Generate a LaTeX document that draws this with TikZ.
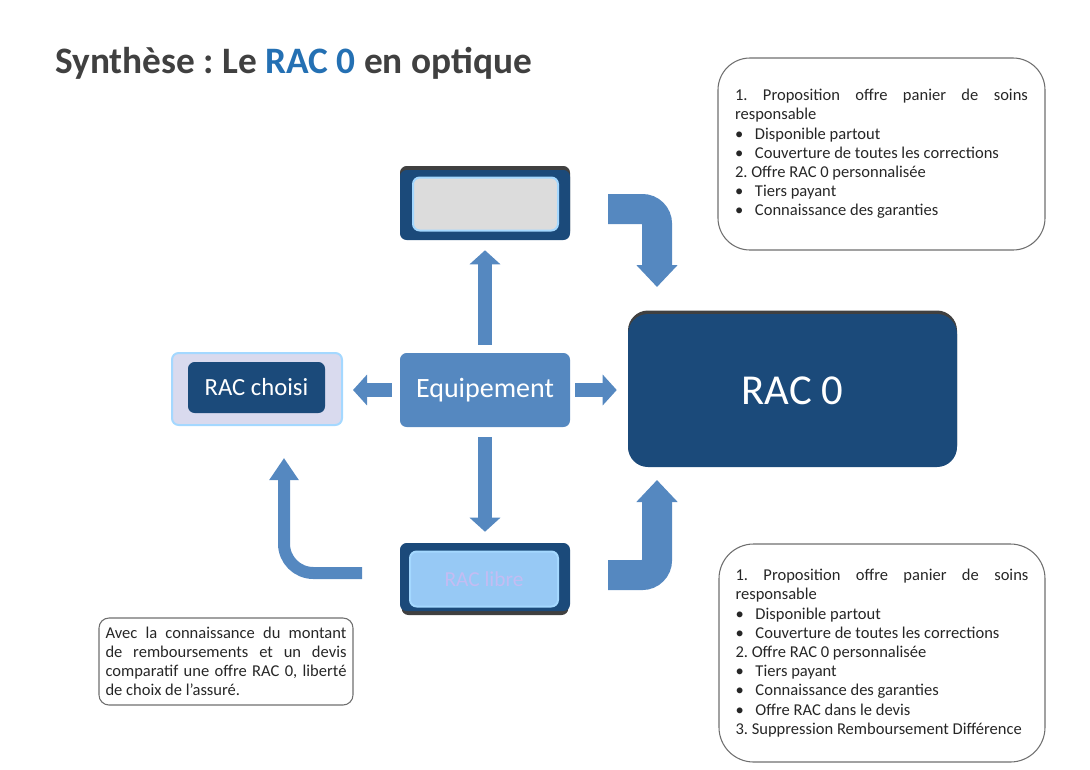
\documentclass[tikz,border=0pt]{standalone}
\usepackage{fontspec}
\setmainfont{Carlito}
\usetikzlibrary{arrows.meta}
\definecolor{bleufonce}{HTML}{1B4A7A}
\definecolor{bleumoyen}{HTML}{5588C0}
\definecolor{bleuclair}{HTML}{97C9F5}
\definecolor{bordclair}{HTML}{A4D8FF}
\definecolor{grisclair}{HTML}{DCDCDC}
\definecolor{lavande}{HTML}{D9DAEE}
\definecolor{titregris}{HTML}{404040}
\definecolor{titrebleu}{HTML}{2470B3}
\definecolor{texte}{HTML}{262626}
\definecolor{bord}{HTML}{6E6E6E}
\definecolor{pale}{HTML}{C4BCF2}
\definecolor{ombre}{HTML}{404040}
\setlength{\parindent}{0pt}
\frenchspacing
\hyphenpenalty=10000
\exhyphenpenalty=10000
\newcommand{\puce}{\makebox[15pt][l]{\textbullet}}

\begin{document}
\begin{tikzpicture}[x=0.75pt,y=-0.75pt,
    fond/.style={rectangle,rounded corners=5pt,inner sep=0pt},
    freccia/.style={draw=bleumoyen,line width=10.5pt,-{Triangle[length=10.5pt,width=22.5pt]}},
    grossa/.style={draw=bleumoyen,line width=22.5pt,rounded corners=11pt,-{Triangle[length=16.5pt,width=30pt]}},
    curva/.style={draw=bleumoyen,line width=9pt,rounded corners=22pt,-{Triangle[length=16.5pt,width=21pt]}},
    nota/.style={draw=bord,line width=0.8pt,align=justify,text=texte,font=\fontsize{12.4}{14.4}\selectfont}]
    %schema del RAC 0 con riquadri e frecce
    \useasboundingbox (0,0) rectangle (1090,769);

    \node[anchor=base west,inner sep=0pt,font=\fontsize{28}{34}\selectfont\bfseries] (titre) at (55,73)
        {{\color{titregris}Synthèse : Le} {\color{titrebleu}RAC 0} {\color{titregris}en optique}};

    \node[fond,fill=ombre,minimum width=127.5pt,minimum height=54pt] (hautombre) at (485,202) {};
    \node[fond,fill=bleufonce,minimum width=127.5pt,minimum height=52.5pt] (haut) at (485,205) {};
    \node[fond,fill=grisclair,draw=bordclair,line width=1.5pt,minimum width=108.75pt,minimum height=39.75pt] (hautin) at (485.5,204) {};

    \node[fond,fill=bleumoyen,minimum width=127.5pt,minimum height=55.5pt,text=white,font=\fontsize{21}{25}\selectfont] (equip) at (485,390) {Equipement};

    \node[fond,fill=lavande,draw=bordclair,line width=1.5pt,minimum width=127.5pt,minimum height=54pt] (choisi) at (257,389) {};
    \node[fond,fill=bleufonce,minimum width=102.75pt,minimum height=38.25pt,text=white,font=\fontsize{18.5}{22}\selectfont] (choisiin) at (256.5,387.5) {RAC choisi};

    \node[fond,fill=ombre,minimum width=125pt,minimum height=52.5pt] (basombre) at (485,580) {};
    \node[fond,fill=bleufonce,minimum width=127.5pt,minimum height=51pt] (bas) at (485,577) {};
    \node[fond,fill=bleuclair,draw=bordclair,line width=1.5pt,minimum width=111pt,minimum height=41.25pt,text=pale,font=\fontsize{16}{19}\selectfont] (basin) at (484,579) {RAC libre};

    \node[fond,rounded corners=15pt,fill=ombre,minimum width=246.75pt,minimum height=116.25pt] (racombre) at (792.5,388) {};
    \node[fond,rounded corners=15pt,fill=bleufonce,minimum width=246.75pt,minimum height=114.75pt,text=white,font=\fontsize{32}{38}\selectfont] (rac) at (792.5,390.5) {RAC 0};

    \node[nota,rounded corners=24pt,minimum width=245.25pt,minimum height=144pt,text width=219.75pt] (note1) at (881.5,154)
        {1. Proposition offre panier de soins responsable\par
        \puce Disponible partout\par
        \puce Couverture de toutes les corrections\par
        2. Offre RAC~0 personnalisée\par
        \puce Tiers payant\par
        \puce Connaissance des garanties};

    \node[nota,rounded corners=26pt,minimum width=244.5pt,minimum height=163.5pt,text width=219.75pt] (note2) at (882,653)
        {1. Proposition offre panier de soins responsable\par
        \puce Disponible partout\par
        \puce Couverture de toutes les corrections\par
        2. Offre RAC~0 personnalisée\par
        \puce Tiers payant\par
        \puce Connaissance des garanties\par
        \puce Offre RAC dans le devis\par
        3. Suppression Remboursement Différence};

    \node[nota,rounded corners=7.5pt,minimum width=190.5pt,minimum height=65.25pt,text width=180.75pt] (note3) at (226,661.5)
        {Avec la connaissance du montant de remboursements et un devis comparatif une offre RAC~0, liberté de choix de l'assuré.};

    \draw[freccia,shorten <=6pt,shorten >=7.5pt] (equip.north) -- (haut.south);
    \draw[freccia,shorten <=7.5pt,shorten >=8.25pt] (equip.south) -- (bas.north);
    \draw[freccia,shorten <=6pt,shorten >=7.5pt] (equip.west) -- (equip.west -| choisi.east);
    \draw[freccia,shorten <=3.75pt,shorten >=8.25pt] (equip.east) -- (equip.east -| rac.west);

    \coordinate (d1) at (608,209);
    \coordinate (f1) at (657,287);
    \coordinate (d2) at (608,575);
    \coordinate (f2) at (657,480);
    \coordinate (d3) at (362,573);
    \coordinate (f3) at (284,458);
    \draw[grossa] (d1) -| (f1);
    \draw[grossa] (d2) -| (f2);
    \draw[curva] (d3) -| (f3);

\end{tikzpicture}
\end{document}
